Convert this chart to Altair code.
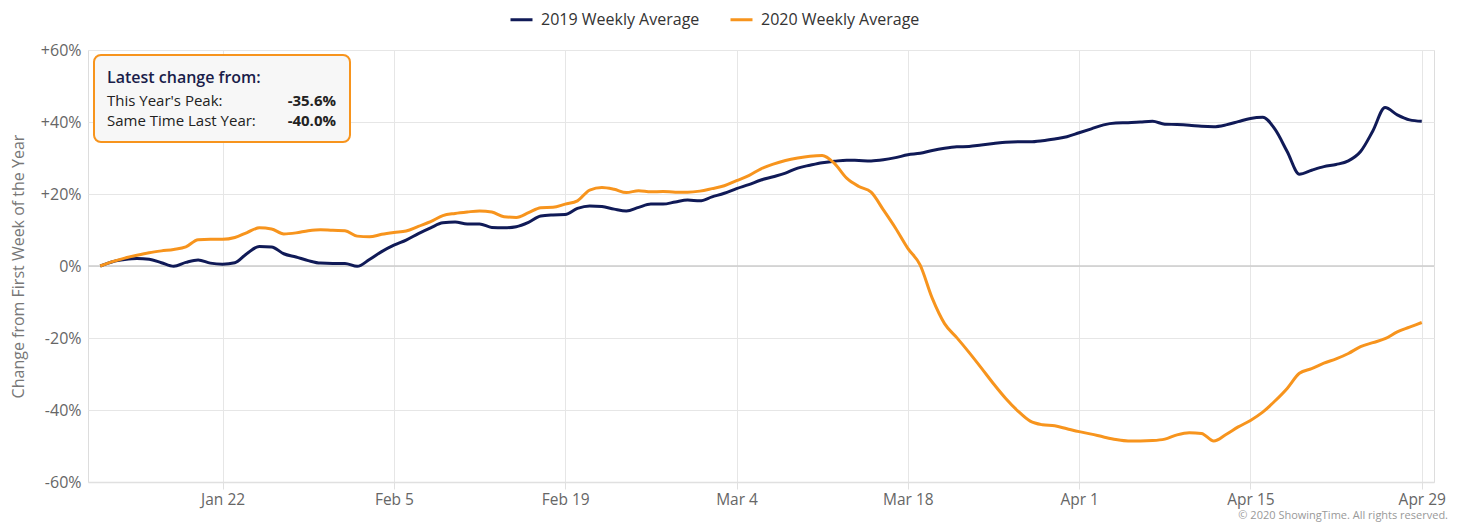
import altair as alt
import pandas as pd

# ---- data ----
start_date = "2020-01-12"
day_offsets = list(range(0, 109))  # Jan 12 .. Apr 29, 2020

vals_2019 = [
    0, 1.2, 1.8, 2.1, 1.9, 0.9, -0.1, 1.0, 1.7, 0.8,
    0.5, 0.9, 3.5, 5.4, 5.3, 3.4, 2.5, 1.5, 0.8, 0.7,
    0.7, -0.1, 1.8, 4.0, 5.8, 7.2, 9.0, 10.6, 12.0, 12.2,
    11.7, 11.7, 10.7, 10.6, 10.9, 12.1, 13.9, 14.2, 14.3, 16.0,
    16.7, 16.5, 15.8, 15.3, 16.3, 17.2, 17.2, 17.8, 18.3, 18.1,
    19.2, 20.2, 21.5, 22.6, 23.9, 24.8, 25.8, 27.2, 28.0, 28.7,
    29.1, 29.4, 29.3, 29.2, 29.5, 30.1, 30.9, 31.3, 32.1, 32.7,
    33.1, 33.2, 33.6, 34.0, 34.4, 34.5, 34.5, 34.8, 35.3, 35.9,
    37.0, 38.1, 39.2, 39.7, 39.8, 40.0, 40.2, 39.4, 39.3, 39.1,
    38.8, 38.7, 39.2, 40.1, 41.0, 41.3, 38.0, 31.8, 25.5, 26.6,
    27.6, 28.2, 29.2, 31.8, 37.5, 44.0, 42.0, 40.6, 40.2,
]

vals_2020 = [
    0, 1.2, 2.2, 3.0, 3.7, 4.2, 4.6, 5.3, 7.3, 7.4,
    7.4, 7.9, 9.3, 10.6, 10.3, 8.9, 9.2, 9.8, 10.1, 9.9,
    9.8, 8.3, 8.1, 8.8, 9.3, 9.7, 11.0, 12.3, 14.0, 14.6,
    15.0, 15.3, 15.0, 13.7, 13.5, 14.8, 16.2, 16.3, 17.2, 18.1,
    21.1, 21.8, 21.3, 20.4, 20.9, 20.6, 20.7, 20.5, 20.5, 20.8,
    21.5, 22.3, 23.7, 25.1, 27.0, 28.3, 29.3, 30.0, 30.5, 30.7,
    28.5, 24.4, 22.1, 20.5, 15.6, 10.5, 4.9, 0.3, -9.0, -16.0,
    -19.9, -24.0, -28.3, -32.7, -36.8, -40.3, -43.1, -44.1, -44.4, -45.2,
    -46.0, -46.7, -47.5, -48.2, -48.6, -48.6, -48.5, -48.1, -46.9, -46.3,
    -46.5, -48.6, -46.8, -44.7, -42.9, -40.6, -37.5, -34.0, -29.8, -28.5,
    -27.0, -25.8, -24.3, -22.4, -21.3, -20.2, -18.3, -17.0, -15.7,
]

series_names = ["2019 Weekly Average", "2020 Weekly Average"]
series_colors = ["#101a57", "#f7941d"]

x_tick_dates = ["2020-01-22", "2020-02-05", "2020-02-19", "2020-03-04",
                "2020-03-18", "2020-04-01", "2020-04-15", "2020-04-29"]
y_ticks = [-60, -40, -20, 0, 20, 40, 60]

box_title = "Latest change from:"
box_labels = ["This Year's Peak:", "Same Time Last Year:"]
box_values = ["-35.6%", "-40.0%"]
copyright_text = "\u00a9 2020 ShowingTime. All rights reserved."

# ---- build table ----
base = pd.Timestamp(start_date)
dates = [(base + pd.Timedelta(days=d)).strftime("%Y-%m-%dT00:00:00Z") for d in day_offsets]
rows = []
for name, vals in zip(series_names, [vals_2019, vals_2020]):
    for dt, v in zip(dates, vals):
        rows.append({"date": dt, "value": v, "series": name})
df = pd.DataFrame(rows)


def dtobj(s):
    t = pd.Timestamp(s)
    return alt.DateTime(year=t.year, month=t.month, date=t.day, utc=True)


FONT = "Open Sans"
W, H = 1346, 432

x_enc = alt.X(
    "date:T",
    scale=alt.Scale(type="utc", domain=[dtobj("2020-01-11"), dtobj("2020-04-30")]),
    axis=alt.Axis(
        values=[dtobj(s) for s in x_tick_dates],
        labelExpr="utcFormat(datum.value, '%b %-d')", title=None,
        grid=True, gridColor="#e6e6e6", gridWidth=1,
        domainColor="#e0e0e0", domainWidth=1.5,
        tickColor="#e0e0e0", tickSize=7,
        labelFont=FONT, labelFontSize=15.5, labelColor="#666666",
        labelPadding=3,
    ),
)
y_enc = alt.Y(
    "value:Q",
    scale=alt.Scale(domain=[-60, 60], nice=False),
    axis=alt.Axis(
        values=y_ticks,
        labelExpr="datum.value > 0 ? '+' + datum.value + '%' : datum.value + '%'",
        title="Change from First Week of the Year",
        titleFont=FONT, titleFontSize=16, titleFontWeight="normal", titleColor="#777777",
        titleAngle=270, titleX=-70, titleY=H / 2, titleAlign="center", titleBaseline="middle",
        grid=True, gridColor="#e6e6e6", gridWidth=1,
        domain=False, ticks=False,
        labelFont=FONT, labelFontSize=16, labelColor="#666666", labelPadding=7,
    ),
)

lines = alt.Chart(df).mark_line(strokeWidth=3, interpolate="monotone").encode(
    x=x_enc,
    y=y_enc,
    color=alt.Color(
        "series:N",
        scale=alt.Scale(domain=series_names, range=series_colors),
        legend=alt.Legend(
            title=None, orient="none", direction="horizontal",
            legendX=421, legendY=-43, padding=0,
            symbolType="stroke", symbolStrokeWidth=3, symbolSize=484,
            labelFont=FONT, labelFontSize=16, labelColor="#333333",
            labelOffset=7, columnPadding=24, labelLimit=400,
        ),
    ),
    detail="series:N",
)

zero_rule = alt.Chart(pd.DataFrame({"z": [0]})).mark_rule(color="#cccccc", strokeWidth=1.5).encode(
    y=alt.Y("z:Q", scale=alt.Scale(domain=[-60, 60], nice=False))
)

box = alt.Chart(pd.DataFrame({"b": [1]})).mark_rect(
    fill="#f7f7f7", stroke="#f7941d", strokeWidth=2, cornerRadius=7
).encode(x=alt.value(6), x2=alt.value(262), y=alt.value(5), y2=alt.value(92))

title_txt = alt.Chart(pd.DataFrame({"t": [box_title]})).mark_text(
    align="left", baseline="middle", font=FONT, fontSize=16, fontWeight=600, color="#1a1d4a"
).encode(x=alt.value(19), y=alt.value(28), text="t:N")

lab_df = pd.DataFrame({"lab": box_labels, "val": box_values, "ypos": [50.5, 70.5]})
lab_txt = alt.Chart(lab_df).mark_text(
    align="left", baseline="middle", font=FONT, fontSize=15, color="#222222"
).encode(x=alt.value(19), y=alt.Y("ypos:Q", scale=None), text="lab:N")
val_txt = alt.Chart(lab_df).mark_text(
    align="right", baseline="middle", font=FONT, fontSize=15, fontWeight="bold", color="#222222"
).encode(x=alt.value(248), y=alt.Y("ypos:Q", scale=None), text="val:N")

copy_txt = alt.Chart(pd.DataFrame({"c": [copyright_text]})).mark_text(
    align="right", baseline="middle", font=FONT, fontSize=11, color="#999999"
).encode(x=alt.value(W + 14), y=alt.value(H + 34), text="c:N")

chart = alt.layer(zero_rule, lines, box, title_txt, lab_txt, val_txt, copy_txt).properties(
    width=W, height=H,
    padding={"left": 80, "top": 42, "right": 20, "bottom": 40},
    autosize=alt.AutoSizeParams(type="none"),
).configure_view(stroke=None).configure(font=FONT)

chart.save("out.html", embed_options={"renderer": "svg", "actions": False})
